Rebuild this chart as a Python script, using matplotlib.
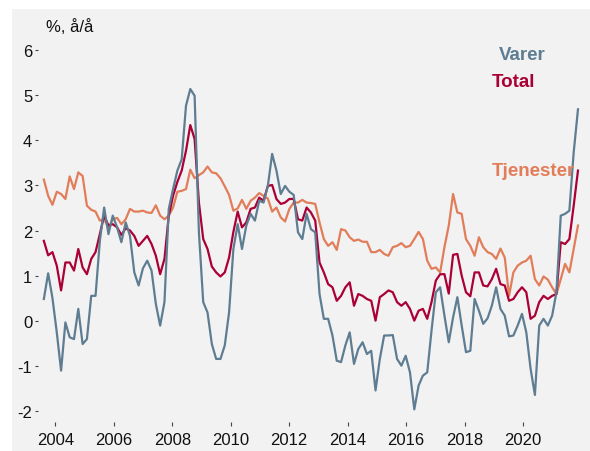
import numpy as np
import matplotlib
matplotlib.use("Agg")
import matplotlib.pyplot as plt
from matplotlib.patches import Rectangle

plt.rcParams['font.family'] = ['Liberation Sans', 'DejaVu Sans']
plt.rcParams['axes.unicode_minus'] = False

# Consumer prices, % year-on-year, read roughly every second month
start_year, end_year = 2003.61, 2021.88

varer = [0.48, 1.05, 0.50, -0.26, -1.11, -0.04, -0.37, -0.41, 0.26, -0.52,
         -0.41, 0.55, 0.55, 1.77, 2.51, 1.92, 2.33, 2.07, 1.74, 2.18,
         1.88, 1.07, 0.78, 1.16, 1.33, 1.11, 0.37, -0.11, 0.41, 2.48,
         2.92, 3.33, 3.58, 4.77, 5.14, 4.99, 1.96, 0.41, 0.18, -0.52,
         -0.85, -0.85, -0.55, 0.18, 1.59, 2.14, 1.59, 2.11, 2.37, 2.22,
         2.66, 2.62, 2.99, 3.70, 3.33, 2.81, 2.99, 2.86, 2.79, 1.96,
         1.81, 2.37, 2.03, 1.96, 0.59, 0.04, 0.04, -0.33, -0.89, -0.92,
         -0.55, -0.26, -0.96, -0.63, -0.48, -0.74, -0.67, -1.55, -0.85, -0.33,
         -0.33, -0.32, -0.85, -1.00, -0.78, -1.15, -1.97, -1.44, -1.22, -1.15,
         -0.22, 0.63, 0.74, 0.11, -0.48, 0.07, 0.52, -0.11, -0.70, -0.67,
         0.48, 0.22, -0.07, 0.05, 0.33, 0.74, 0.26, 0.11, -0.35, -0.33,
         -0.11, 0.15, -0.26, -1.07, -1.65, -0.11, 0.04, -0.11, 0.11, 0.63,
         2.33, 2.37, 2.44, 3.73, 4.69]

total = [1.77, 1.45, 1.52, 1.22, 0.67, 1.29, 1.29, 1.11, 1.59, 1.18,
         1.03, 1.37, 1.52, 1.92, 2.33, 2.11, 2.14, 2.07, 1.90, 2.05,
         2.00, 1.88, 1.66, 1.77, 1.88, 1.70, 1.44, 1.03, 1.37, 2.33,
         2.77, 3.08, 3.33, 3.77, 4.34, 4.03, 2.62, 1.81, 1.59, 1.20,
         1.07, 0.98, 1.07, 1.40, 1.97, 2.42, 2.07, 2.18, 2.48, 2.51,
         2.73, 2.66, 2.99, 3.01, 2.70, 2.59, 2.62, 2.70, 2.70, 2.25,
         2.22, 2.51, 2.40, 2.22, 1.29, 1.07, 0.81, 0.74, 0.44, 0.55,
         0.74, 0.85, 0.33, 0.59, 0.55, 0.48, 0.44, 0.00, 0.52, 0.59,
         0.67, 0.63, 0.41, 0.33, 0.41, 0.26, 0.00, 0.22, 0.26, 0.04,
         0.41, 0.89, 1.03, 1.03, 0.60, 1.46, 1.48, 1.00, 0.63, 0.54,
         1.07, 1.07, 0.78, 0.76, 0.92, 1.15, 0.81, 0.78, 0.44, 0.48,
         0.63, 0.74, 0.63, 0.04, 0.11, 0.41, 0.55, 0.48, 0.55, 0.59,
         1.74, 1.70, 1.81, 2.55, 3.33]

tjenester = [3.13, 2.77, 2.57, 2.86, 2.81, 2.70, 3.20, 2.92, 3.29, 3.21,
             2.55, 2.46, 2.42, 2.22, 2.25, 2.06, 2.25, 2.28, 2.14, 2.25,
             2.48, 2.42, 2.42, 2.44, 2.40, 2.39, 2.56, 2.33, 2.25, 2.33,
             2.51, 2.86, 2.88, 2.92, 3.35, 3.16, 3.23, 3.29, 3.42, 3.29,
             3.27, 3.16, 2.98, 2.79, 2.44, 2.49, 2.68, 2.48, 2.66, 2.73,
             2.83, 2.77, 2.71, 2.42, 2.51, 2.29, 2.20, 2.48, 2.62, 2.62,
             2.68, 2.62, 2.61, 2.59, 2.18, 1.81, 1.66, 1.74, 1.57, 2.03,
             2.00, 1.85, 1.77, 1.80, 1.75, 1.75, 1.52, 1.52, 1.57, 1.48,
             1.44, 1.63, 1.66, 1.72, 1.63, 1.66, 1.81, 1.97, 1.81, 1.33,
             1.15, 1.18, 1.07, 1.63, 2.11, 2.81, 2.40, 2.37, 1.81, 1.66,
             1.44, 1.85, 1.63, 1.52, 1.48, 1.37, 1.60, 1.40, 0.55, 1.07,
             1.22, 1.29, 1.33, 1.44, 0.92, 0.78, 0.98, 0.91, 0.74, 0.59,
             0.92, 1.26, 1.07, 1.59, 2.11]

tick_years = [2004, 2006, 2008, 2010, 2012, 2014, 2016, 2018, 2020]
y_ticks = [-2, -1, 0, 1, 2, 3, 4, 5, 6]

c_varer = '#5e7d92'
c_total = '#aa0036'
c_tjen = '#e27d5a'
bg = '#f2f2f2'

x = np.linspace(start_year, end_year, len(varer))

fig = plt.figure(figsize=(5.9, 4.52), dpi=100, facecolor='white')
# grey panel behind everything, leaving a thin white margin top and left
fig.patches.append(Rectangle((12 / 590, 0), 1, 1 - 10 / 452, transform=fig.transFigure,
                             facecolor=bg, edgecolor='none', zorder=-10))
ax = fig.add_axes([38 / 590, 1 - 423 / 452, 547 / 590, 392 / 452])
ax.set_facecolor('none')
ax.set_zorder(1)

ax.plot(x, tjenester, color=c_tjen, lw=1.6)
ax.plot(x, total, color=c_total, lw=1.6)
ax.plot(x, varer, color=c_varer, lw=1.6)

ax.set_xlim(2003.41, 2022.12)
ax.set_ylim(-2.25, 6.45)
ax.set_xticks(tick_years)
ax.set_xticklabels([str(y) for y in tick_years])
ax.set_yticks(y_ticks)
ax.set_yticklabels([str(v) for v in y_ticks])
for s in ax.spines.values():
    s.set_visible(False)
ax.tick_params(axis='y', length=2.2, width=0.8, pad=2, color='#444444', labelsize=12, labelcolor='#111111')
ax.tick_params(axis='x', length=3, width=0.8, pad=4, color='#444444', labelsize=12, labelcolor='#111111')

# series labels
ax.text(2019.97, 5.91, 'Varer', color=c_varer, fontsize=13.5, fontweight='bold', ha='center', va='center')
ax.text(2019.69, 5.31, 'Total', color=c_total, fontsize=13.5, fontweight='bold', ha='center', va='center')
ax.text(2020.34, 3.34, 'Tjenester', color=c_tjen, fontsize=13.5, fontweight='bold', ha='center', va='center')

fig.text(70 / 590, 1 - 27 / 452, '%, å/å', fontsize=12, color='#111111', ha='center', va='center')

fig.savefig('out.png', dpi=100, facecolor=fig.get_facecolor())
